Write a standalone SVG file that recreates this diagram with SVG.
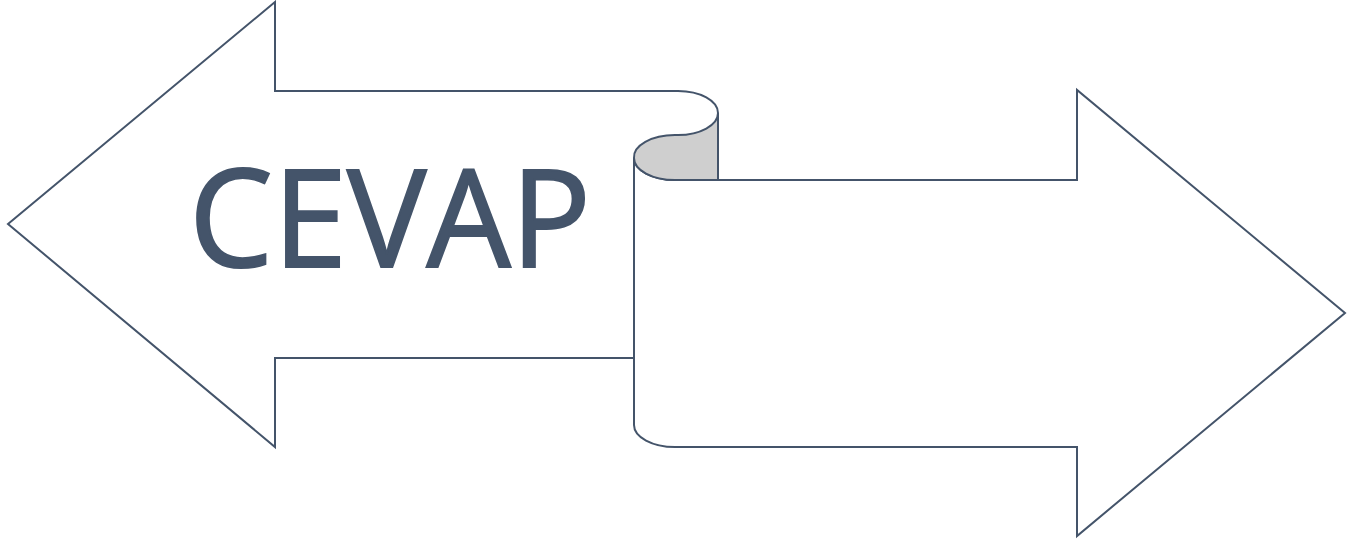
<svg xmlns="http://www.w3.org/2000/svg" width="1356" height="544" viewBox="0 0 1356 544">
<style>
.shape{fill:#FFFFFF;stroke:#44546A;stroke-width:2;stroke-linejoin:miter}
.fold{fill:#CFCFCF;stroke:#44546A;stroke-width:2}
.label{font-family:"Open Sans","Noto Sans",sans-serif;font-size:136px;fill:#44546A;stroke:#44546A;stroke-width:2}
</style>
<rect width="1356" height="544" fill="#FFFFFF"/>
<g id="left-arrow">
<path class="shape" d="M 634,358 L 275,358 L 275,447 L 8,224 L 275,2 L 275,91 L 678,91 A 40 22 0 0 1 718,113 L 718,180 L 634,180 Z"/>
</g>
<g id="right-arrow">
<path class="shape" d="M 634,158 A 41 22 0 0 0 675,180 L 1077,180 L 1077,90 L 1345,313 L 1077,536 L 1077,447 L 675,447 A 41 22 0 0 1 634,425 Z"/>
</g>
<g id="fold">
<path class="fold" d="M 718,113 A 40 22 0 0 1 678,135 L 675,135 A 41 22 0 0 0 634,158 A 41 22 0 0 0 675,180 L 718,180 Z"/>
</g>
<g id="label">
<text class="label" x="390" y="267" text-anchor="middle" textLength="402" lengthAdjust="spacingAndGlyphs">CEVAP</text>
</g>
</svg>
